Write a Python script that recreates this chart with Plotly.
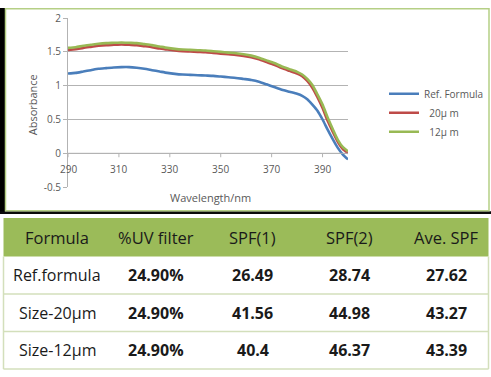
import plotly.graph_objects as go

W, H = 491, 377

wavelength = [290, 293, 296, 299, 302, 305, 308, 311, 314, 317, 320, 323, 326, 329, 332, 335, 338, 341, 344, 347, 350,
              353, 356, 359, 362, 365, 368, 371, 374, 377, 380, 382, 384, 386, 388, 390, 392, 394, 396, 398, 400]
ref_formula = [1.18, 1.19, 1.21, 1.23, 1.25, 1.26, 1.27, 1.275, 1.275, 1.265, 1.25, 1.23, 1.21, 1.19, 1.175, 1.165, 1.16, 1.155, 1.15, 1.145, 1.135,
               1.125, 1.115, 1.10, 1.085, 1.06, 1.02, 0.98, 0.94, 0.91, 0.88, 0.85, 0.80, 0.72, 0.63, 0.50, 0.35, 0.21, 0.08, -0.02, -0.09]
size_20 = [1.53, 1.54, 1.56, 1.575, 1.59, 1.60, 1.605, 1.61, 1.605, 1.60, 1.585, 1.57, 1.55, 1.535, 1.52, 1.51, 1.505, 1.50, 1.495, 1.485, 1.475,
           1.465, 1.455, 1.44, 1.42, 1.39, 1.35, 1.31, 1.26, 1.22, 1.18, 1.14, 1.07, 0.97, 0.83, 0.67, 0.48, 0.32, 0.17, 0.06, 0.0]
size_12 = [1.56, 1.57, 1.59, 1.605, 1.62, 1.63, 1.635, 1.64, 1.635, 1.63, 1.615, 1.60, 1.58, 1.56, 1.545, 1.535, 1.53, 1.525, 1.52, 1.51, 1.50,
           1.49, 1.48, 1.465, 1.445, 1.415, 1.375, 1.335, 1.285, 1.245, 1.205, 1.165, 1.10, 1.01, 0.87, 0.72, 0.53, 0.36, 0.20, 0.09, 0.03]

x_ticks = [290, 310, 330, 350, 370, 390]
y_ticks = [-0.5, 0, 0.5, 1, 1.5, 2]
y_tick_labels = ["-0.5", "0", "0.5", "1", "1.5", "2"]

table_header = ["Formula", "%UV filter", "SPF(1)", "SPF(2)", "Ave. SPF"]
table_formula = ["Ref.formula", "Size-20\u03bcm", "Size-12\u03bcm"]
table_uv = ["24.90%", "24.90%", "24.90%"]
table_spf1 = ["26.49", "41.56", "40.4"]
table_spf2 = ["28.74", "44.98", "46.37"]
table_ave = ["27.62", "43.27", "43.39"]

series = [
    ("Ref. Formula", ref_formula, "#4a7ebb"),
    ("  20\u03bc m", size_20, "#be4b48"),
    ("  12\u03bc m", size_12, "#98b954"),
]

fig = go.Figure()
for name, vals, col in series:
    fig.add_trace(go.Scatter(x=wavelength, y=vals, mode="lines", name=name,
                             line=dict(color=col, width=2.6, shape="spline", smoothing=0.6)))

def px(x):
    return x / W

def py(y):
    return 1 - y / H

shapes = []
# black background strips
shapes.append(dict(type="rect", xref="paper", yref="paper", x0=px(0), x1=px(5), y0=py(214), y1=py(0),
                   fillcolor="#000000", line=dict(width=0), layer="below"))
shapes.append(dict(type="rect", xref="paper", yref="paper", x0=px(0), x1=px(491), y0=py(214), y1=py(211),
                   fillcolor="#0a0a0a", line=dict(width=0), layer="below"))
# chart panel border
shapes.append(dict(type="rect", xref="paper", yref="paper", x0=px(5.5), x1=px(489), y0=py(210.5), y1=py(0.8),
                   fillcolor="rgba(0,0,0,0)", line=dict(color="#b5cf85", width=1.5), layer="below"))

# table
tx0, tx1 = 3.5, 488.5
row_edges = [218, 258, 297, 336, 375]
shapes.append(dict(type="rect", xref="paper", yref="paper", x0=px(tx0), x1=px(tx1), y0=py(row_edges[1]), y1=py(row_edges[0]),
                   fillcolor="#9bbb59", line=dict(width=0)))
for i in range(1, 4):
    shapes.append(dict(type="line", xref="paper", yref="paper", x0=px(tx0), x1=px(tx1),
                       y0=py(row_edges[i + 1]), y1=py(row_edges[i + 1]), line=dict(color="#d3dfbb", width=1.5)))
shapes.append(dict(type="line", xref="paper", yref="paper", x0=px(tx0), x1=px(tx0),
                   y0=py(row_edges[-1]), y1=py(row_edges[1]), line=dict(color="#d3dfbb", width=1.5)))
shapes.append(dict(type="line", xref="paper", yref="paper", x0=px(tx1), x1=px(tx1),
                   y0=py(row_edges[-1]), y1=py(row_edges[1]), line=dict(color="#d3dfbb", width=1.5)))

col_centers = [57, 156, 253, 349, 446]
annotations = []
for c, txt in zip(col_centers, table_header):
    annotations.append(dict(x=px(c), y=py((row_edges[0] + row_edges[1]) / 2), xref="paper", yref="paper",
                            text=txt, showarrow=False, xanchor="center", yanchor="middle",
                            font=dict(family="Open Sans", size=16.5, color="#1a1a1a")))
rows = list(zip(table_formula, table_uv, table_spf1, table_spf2, table_ave))
for r, row in enumerate(rows):
    yc = (row_edges[r + 1] + row_edges[r + 2]) / 2
    for ci, (c, txt) in enumerate(zip(col_centers, row)):
        t = txt if ci == 0 else "<b>" + txt + "</b>"
        annotations.append(dict(x=px(c), y=py(yc), xref="paper", yref="paper",
                                text=t, showarrow=False, xanchor="center", yanchor="middle",
                                font=dict(family="Open Sans", size=16, color="#1a1a1a")))

# axis titles
annotations.append(dict(x=px(32), y=py(100), xref="paper", yref="paper", text="Absorbance", textangle=-90,
                        showarrow=False, xanchor="center", yanchor="middle",
                        font=dict(family="Open Sans", size=11, color="#595959")))
annotations.append(dict(x=px(210), y=py(197), xref="paper", yref="paper", text="Wavelength/nm",
                        showarrow=False, xanchor="center", yanchor="middle",
                        font=dict(family="Open Sans", size=11, color="#595959")))

fig.update_layout(
    width=W, height=H,
    margin=dict(l=0, r=0, t=0, b=0),
    paper_bgcolor="#ffffff", plot_bgcolor="#ffffff",
    showlegend=True,
    legend=dict(x=px(384), y=py(74), xanchor="left", yanchor="top",
                font=dict(family="Open Sans", size=10, color="#595959"),
                bgcolor="rgba(0,0,0,0)", itemwidth=30, tracegroupgap=0),
    xaxis=dict(domain=[px(68), px(348)], range=[290, 400], tickvals=x_ticks,
               ticktext=[str(v) for v in x_ticks],
               showgrid=False, zeroline=False, showline=False,
               ticks="", tickfont=dict(family="Open Sans", size=10, color="#595959"),
               anchor="y", position=0),
    yaxis=dict(domain=[py(186), py(10.5)], range=[-0.5, 2], tickvals=y_ticks, ticktext=y_tick_labels,
               showgrid=True, gridcolor="#b3b3b3", gridwidth=1, zeroline=False,
               showline=True, linecolor="#b3b3b3", linewidth=1,
               ticks="outside", ticklen=4, tickcolor="#b3b3b3",
               tickfont=dict(family="Open Sans", size=10, color="#595959")),
    shapes=shapes,
    annotations=annotations,
)

# x-axis line at y=0 with tick marks, and tick labels just below it
fig.add_shape(type="line", xref="x", yref="y", x0=290, x1=400, y0=0, y1=0, line=dict(color="#b3b3b3", width=1))
for v in x_ticks:
    fig.add_shape(type="line", xref="x", yref="paper", x0=v, x1=v, y0=py(150.7), y1=py(155),
                  line=dict(color="#b3b3b3", width=1))
    fig.add_annotation(x=v, y=py(158), xref="x", yref="paper", text=str(v), showarrow=False,
                       xanchor="center", yanchor="top", font=dict(family="Open Sans", size=10, color="#595959"))
fig.update_xaxes(showticklabels=False)

fig.write_html("out.html", config={"displayModeBar": False},
               post_script="document.body.style.margin='0';document.body.style.overflow='hidden';")
